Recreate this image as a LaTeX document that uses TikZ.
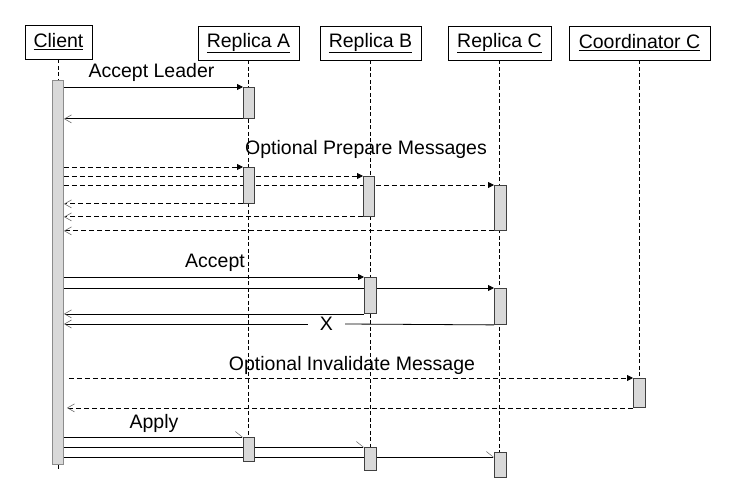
\documentclass[tikz,border=0pt]{standalone}
\usepackage{fontspec}
\setmainfont{Liberation Sans}
\usetikzlibrary{arrows.meta,backgrounds,calc}
\begin{document}
\begin{tikzpicture}[x=1pt,y=-1pt,
  every node/.style={font=\fontsize{19.5pt}{22pt}\selectfont},
  head/.style={draw=black,line width=0.9pt,fill=white,minimum height=34pt,inner sep=0pt},
  bar/.style={draw=black!75,line width=0.9pt,fill=black!15,minimum width=11pt,inner sep=0pt,anchor=north west},
  life/.style={line width=0.8pt,dash pattern=on 4pt off 2.5pt},
  lbl/.style={inner sep=0pt},
  call/.style={line width=0.8pt,-{Triangle[length=6pt,width=6pt]}},
  ret/.style={line width=0.8pt,-{Straight Barb[length=7pt,width=8pt,line width=0.6pt,color=black!60]}},
  apply/.style={line width=0.8pt,-{Straight Barb[left,length=7pt,width=11pt,line width=0.5pt,color=black!60]}},
  dsh/.style={dash pattern=on 5pt off 3pt}
]
\useasboundingbox (0,0) rectangle (742,489);
% headers
\node[head,minimum width=67pt] (cl) at (58.5,42) {\underline{Client}};
\node[head,minimum width=101pt] (ra) at (248.5,43) {\underline{Replica A}};
\node[head,minimum width=101pt] (rb) at (370.5,43) {\underline{Replica B}};
\node[head,minimum width=103pt] (rc) at (499.5,43) {\underline{Replica C}};
\node[head,minimum width=141pt] (co) at (639.5,43) {\underline{Coordinator C}};
% activation bars
\node[bar,draw=black!45,minimum height=384pt] (cbar) at (52,80) {};
\node[bar,minimum height=31pt] (a1) at (243,87) {};
\node[bar,minimum height=36pt] (a2) at (243,167) {};
\node[bar,minimum height=40pt] (b1) at (363,176) {};
\node[bar,minimum width=12pt,minimum height=45pt] (c1) at (494,185) {};
\node[bar,minimum width=12pt,minimum height=36pt] (b2) at (364,277) {};
\node[bar,minimum width=12pt,minimum height=36pt] (c2) at (494,288) {};
\node[bar,minimum width=12pt,minimum height=29pt] (d1) at (633,378) {};
\node[bar,minimum height=24pt] (a3) at (243,437) {};
\node[bar,minimum width=12pt,minimum height=23pt] (b3) at (364,447) {};
\node[bar,minimum width=12pt,minimum height=25pt] (c3) at (494,452) {};
% labels
\node[lbl] (l1) at (151.5,72) {Accept Leader};
\node[lbl] (l2) at (366,149) {Optional Prepare Messages};
\node[lbl] (l3) at (215,263) {Accept};
\node[lbl,minimum width=37pt] (x) at (326.5,324) {X};
\node[lbl] (l4) at (352,365) {Optional Invalidate Message};
\node[lbl] (l5) at (154,423) {Apply};
\begin{pgfonlayer}{background}
% lifelines
\draw[life] (cl.south) -- (cl.south |- cbar.north);
\draw[life] (cbar.south) -- ++(0,4);
\draw[life] (ra.south) -- (ra.south |- a3.north);
\draw[life] (rb.south) -- (rb.south |- b3.north);
\draw[life] (rc.south) -- (rc.south |- c3.north);
\draw[life] (co.south) -- (co.south |- d1.north);
% accept leader
\draw[call] (a1.north west -| cbar.east) -- (a1.north west);
\draw[ret] (a1.south west) -- (a1.south west -| cbar.east);
% prepare
\draw[call,dsh] (a2.north west -| cbar.east) -- (a2.north west);
\draw[call,dsh] (b1.north west -| cbar.east) -- (b1.north west);
\draw[call,dsh] (c1.north west -| cbar.east) -- (c1.north west);
\draw[ret,dsh] (a2.south west) -- (a2.south west -| cbar.east);
\draw[ret,dsh] (b1.south west) -- (b1.south west -| cbar.east);
\draw[ret,dsh] (c1.south west) -- (c1.south west -| cbar.east);
% accept
\draw[call] (b2.north west -| cbar.east) -- (b2.north west);
\draw[call] (c2.north west -| cbar.east) -- (c2.north west);
\draw[ret] (b2.south west) -- (b2.south west -| cbar.east);
\draw[line width=0.8pt] (c2.south west) -- (x.east);
\draw[ret] (x.west) -- (x.west -| cbar.east);
% invalidate
\draw[call,dsh] ($(d1.north west -| cbar.east)+(5,0)$) -- (d1.north west);
\draw[ret,dsh] (d1.south west) -- ($(d1.south west -| cbar.east)+(3,0)$);
% apply
\draw[apply] (a3.north west -| cbar.east) -- (a3.north west);
\draw[apply] (b3.north west -| cbar.east) -- (b3.north west);
\draw[apply] ($(c3.north west -| cbar.east)+(0,5)$) -- ($(c3.north west)+(0,5)$);
\end{pgfonlayer}
\end{tikzpicture}
\end{document}
